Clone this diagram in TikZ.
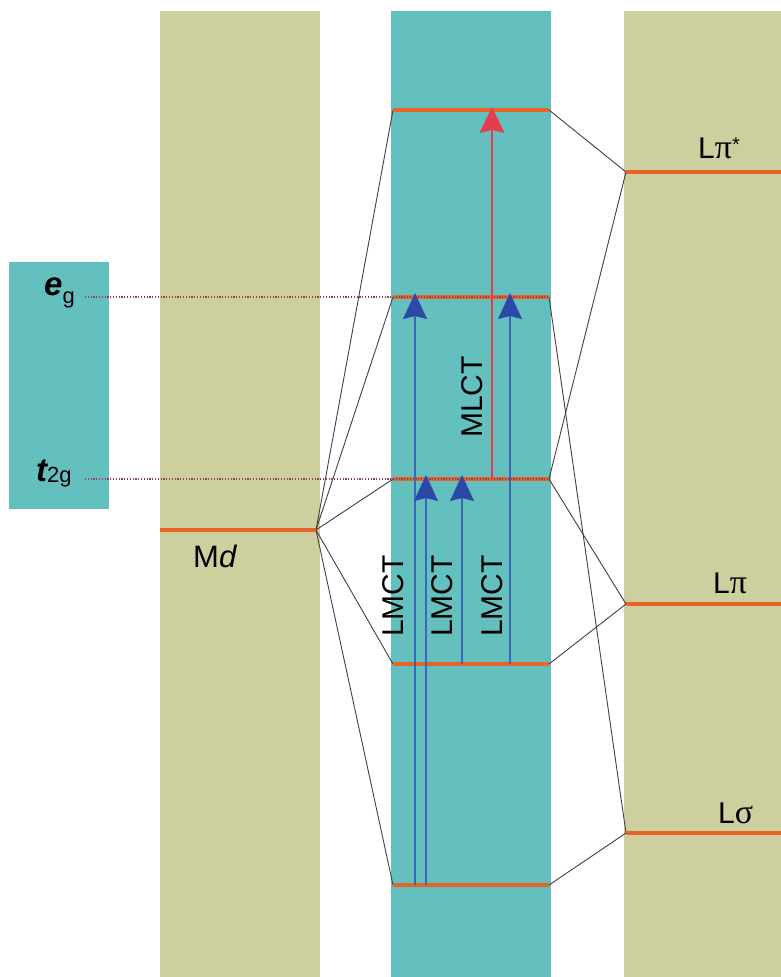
\documentclass[tikz,border=0pt]{standalone}
\usepackage{fontspec}
\setmainfont{Liberation Sans}
\newfontfamily\grk{Liberation Serif}
\usetikzlibrary{arrows.meta}
\definecolor{tealc}{RGB}{99,192,190}
\definecolor{khakic}{RGB}{206,207,158}
\definecolor{levelc}{RGB}{232,100,40}
\definecolor{bluel}{RGB}{62,102,182}
\definecolor{blueh}{RGB}{46,72,168}
\definecolor{redl}{RGB}{226,62,80}
\definecolor{dotc}{RGB}{150,60,85}
\tikzset{
  conn/.style={draw=black!75, line width=0.9pt},
  level/.style={draw=levelc, line width=3.6pt},
  dotline/.style={draw=dotc, line width=1.1pt, dash pattern=on 1.2pt off 1.6pt},
  bluearrow/.style={draw=bluel, line width=1.4pt, -{Stealth[inset=3pt,length=26pt,width=24pt,color=blueh,fill=blueh]}},
  redarrow/.style={draw=redl, line width=1.4pt, -{Stealth[inset=3pt,length=26pt,width=25pt,color=redl,fill=redl]}},
  lab/.style={font=\fontsize{30}{30}\selectfont, inner sep=0pt},
  llab/.style={font=\fontsize{30}{30}\selectfont, inner sep=0pt, anchor=base west},
}
\begin{document}
\begin{tikzpicture}[x=1pt,y=-1pt]
\useasboundingbox (0,0) rectangle (781,977);
% columns
\fill[khakic] (160,11) rectangle (320,977);
\fill[tealc] (391,11) rectangle (551,977);
\fill[khakic] (624,11) rectangle (781,977);
\fill[tealc] (9,262) rectangle (109,509);
% coordinates
\coordinate (MdL) at (160,530);
\coordinate (Md) at (316,530);
\coordinate (m1L) at (393,110); \coordinate (m1R) at (549,110);
\coordinate (m2L) at (393,297); \coordinate (m2R) at (549,297);
\coordinate (m3L) at (393,479); \coordinate (m3R) at (549,479);
\coordinate (m4L) at (393,664); \coordinate (m4R) at (549,664);
\coordinate (m5L) at (393,885); \coordinate (m5R) at (549,885);
\coordinate (pisL) at (626,172); \coordinate (pisR) at (781,172);
\coordinate (piL) at (626,604); \coordinate (piR) at (781,604);
\coordinate (sgL) at (626,833); \coordinate (sgR) at (781,833);
\coordinate (egd) at (85,297);
\coordinate (t2d) at (85,479);
% connectors
\foreach \m in {m1L,m2L,m3L,m4L,m5L} \draw[conn] (Md) -- (\m);
\draw[conn] (m1R) -- (pisL);
\draw[conn] (m2R) -- (sgL);
\draw[conn] (m3R) -- (pisL);
\draw[conn] (m3R) -- (piL);
\draw[conn] (m4R) -- (piL);
\draw[conn] (m5R) -- (sgL);
% levels
\draw[level] (MdL) -- (Md);
\foreach \i in {1,...,5} \draw[level] (m\i L) -- (m\i R);
\draw[level] (pisL) -- (pisR);
\draw[level] (piL) -- (piR);
\draw[level] (sgL) -- (sgR);
% dotted lines
\draw[dotline] (egd) -- (m2R);
\draw[dotline] (t2d) -- (m3R);
% arrows
\coordinate (b1s) at (415,885); \coordinate (b1e) at (415,293);
\coordinate (b2s) at (426,885); \coordinate (b2e) at (426,475);
\coordinate (b3s) at (462,664); \coordinate (b3e) at (462,475);
\coordinate (b4s) at (510,664); \coordinate (b4e) at (510,293);
\coordinate (rs) at (492,479); \coordinate (re) at (492,107);
\draw[redarrow] (rs) -- (re);
\draw[bluearrow] (b1s) -- (b1e);
\draw[bluearrow] (b2s) -- (b2e);
\draw[bluearrow] (b3s) -- (b3e);
\draw[bluearrow] (b4s) -- (b4e);
% labels
\node[lab, rotate=90] (mlct) at (472,397) {MLCT};
\node[lab, rotate=90] (lmct1) at (393,596) {LMCT};
\node[lab, rotate=90] (lmct2) at (442,596) {LMCT};
\node[lab, rotate=90] (lmct3) at (492,596) {LMCT};
\node[llab] (eg) at (44,295) {\fontsize{33}{33}\selectfont\bfseries\itshape e\normalfont\fontsize{22}{22}\selectfont\raisebox{-8pt}{g}};
\node[llab] (t2g) at (36,481) {\fontsize{33}{33}\selectfont\bfseries\itshape t\normalfont\fontsize{22}{22}\selectfont\raisebox{-1pt}{2g}};
\node[llab] (md) at (193,567) {\fontsize{31}{31}\selectfont M\textit{d}};
\node[llab] (lpis) at (698,158) {L{\grk\fontsize{34}{34}\selectfont π}\raisebox{7pt}{\fontsize{20}{20}\selectfont *}};
\node[llab] (lpi) at (713,593) {L{\grk\fontsize{34}{34}\selectfont π}};
\node[llab] (lsg) at (718,823) {L{\grk\fontsize{34}{34}\selectfont σ}};
\end{tikzpicture}
\end{document}
